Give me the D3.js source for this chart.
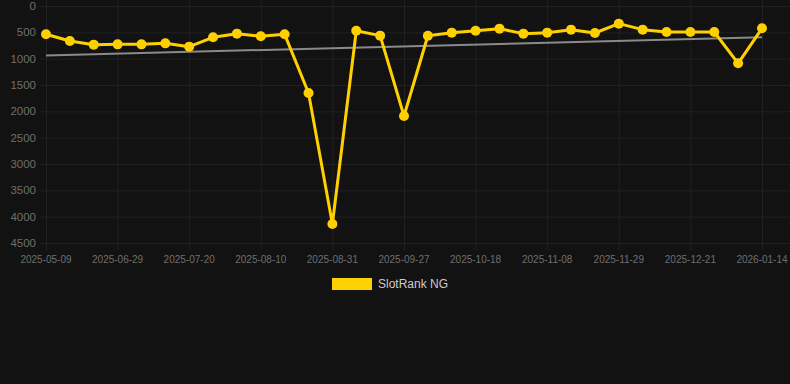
<!DOCTYPE html>
<html>
<head>
<meta charset="utf-8">
<script src="https://cdn.jsdelivr.net/npm/d3@7"></script>
<style>
  html, body { margin: 0; padding: 0; background: #121212; }
  svg { display: block; }
</style>
</head>
<body>
<svg id="chart" width="790" height="384"></svg>
<script>
const dates = [
  "2025-05-09", "2025-06-15", "2025-06-22", "2025-06-29", "2025-07-06", "2025-07-13",
  "2025-07-20", "2025-07-27", "2025-08-03", "2025-08-10", "2025-08-17", "2025-08-24",
  "2025-08-31", "2025-09-07", "2025-09-14", "2025-09-27", "2025-10-04", "2025-10-11",
  "2025-10-18", "2025-10-25", "2025-11-01", "2025-11-08", "2025-11-15", "2025-11-22",
  "2025-11-29", "2025-12-06", "2025-12-13", "2025-12-21", "2025-12-28", "2026-01-07",
  "2026-01-14"
];
const ranks = [
  537, 665, 734, 728, 728, 709, 772, 595, 525, 576, 538, 1652, 4139, 469, 563, 2088,
  564, 506, 469, 430, 525, 506, 449, 513, 335, 449, 494, 494, 494, 1088, 424
];
const yTicks = [0, 500, 1000, 1500, 2000, 2500, 3000, 3500, 4000, 4500];
const seriesName = "SlotRank NG";

const svg = d3.select("#chart");
const plotTop = 6, plotBottom = 243, plotLeft = 40, plotRight = 790;

const x = d3.scalePoint().domain(d3.range(dates.length)).range([46, 762]);
const y = d3.scaleLinear().domain([0, 4500]).range([plotTop, plotBottom]);

// grid
const gridColor = "#212121";
const xTickIdx = d3.range(0, dates.length, 3);
svg.append("g").selectAll("line").data(yTicks).join("line")
  .attr("x1", plotLeft).attr("x2", plotRight)
  .attr("y1", d => y(d) + 0.5).attr("y2", d => y(d) + 0.5)
  .attr("stroke", gridColor).attr("stroke-width", 1);
svg.append("g").selectAll("line").data(xTickIdx).join("line")
  .attr("x1", d => x(d) + 0.5).attr("x2", d => x(d) + 0.5)
  .attr("y1", 0).attr("y2", plotBottom + 7)
  .attr("stroke", gridColor).attr("stroke-width", 1);

// axis labels
svg.append("g").selectAll("text").data(yTicks).join("text")
  .attr("x", 36).attr("y", d => y(d))
  .attr("dy", "0.35em")
  .attr("text-anchor", "end")
  .attr("fill", "#6f6f6f")
  .style("font", "11.5px 'Liberation Sans', Arial, sans-serif")
  .text(d => d);
svg.append("g").selectAll("text").data(xTickIdx).join("text")
  .attr("x", d => x(d)).attr("y", 259)
  .attr("dy", "0.35em")
  .attr("text-anchor", "middle")
  .attr("fill", "#6f6f6f")
  .style("font", "10px 'Liberation Sans', Arial, sans-serif")
  .text(d => dates[d]);

// trend line (least squares)
const n = ranks.length;
const mx = d3.mean(d3.range(n)), my = d3.mean(ranks);
const slope = d3.sum(ranks, (v, i) => (i - mx) * (v - my)) / d3.sum(d3.range(n), i => (i - mx) ** 2);
const icpt = my - slope * mx;
svg.append("line")
  .attr("x1", x(0)).attr("y1", y(icpt))
  .attr("x2", x(n - 1)).attr("y2", y(icpt + slope * (n - 1)))
  .attr("stroke", "#8a8a8a").attr("stroke-width", 2);

// series
const color = "#ffd000";
svg.append("path")
  .datum(ranks)
  .attr("fill", "none")
  .attr("stroke", color)
  .attr("stroke-width", 3)
  .attr("stroke-linejoin", "round")
  .attr("d", d3.line().x((d, i) => x(i)).y(d => y(d)));
svg.append("g").selectAll("circle").data(ranks).join("circle")
  .attr("cx", (d, i) => x(i)).attr("cy", d => y(d))
  .attr("r", 5)
  .attr("fill", color);

// legend
svg.append("rect")
  .attr("x", 332).attr("y", 278).attr("width", 40).attr("height", 12)
  .attr("fill", color);
svg.append("text")
  .attr("x", 378).attr("y", 284)
  .attr("dy", "0.35em")
  .attr("fill", "#cccccc")
  .style("font", "12px 'Liberation Sans', Arial, sans-serif")
  .text(seriesName);
</script>
</body>
</html>
